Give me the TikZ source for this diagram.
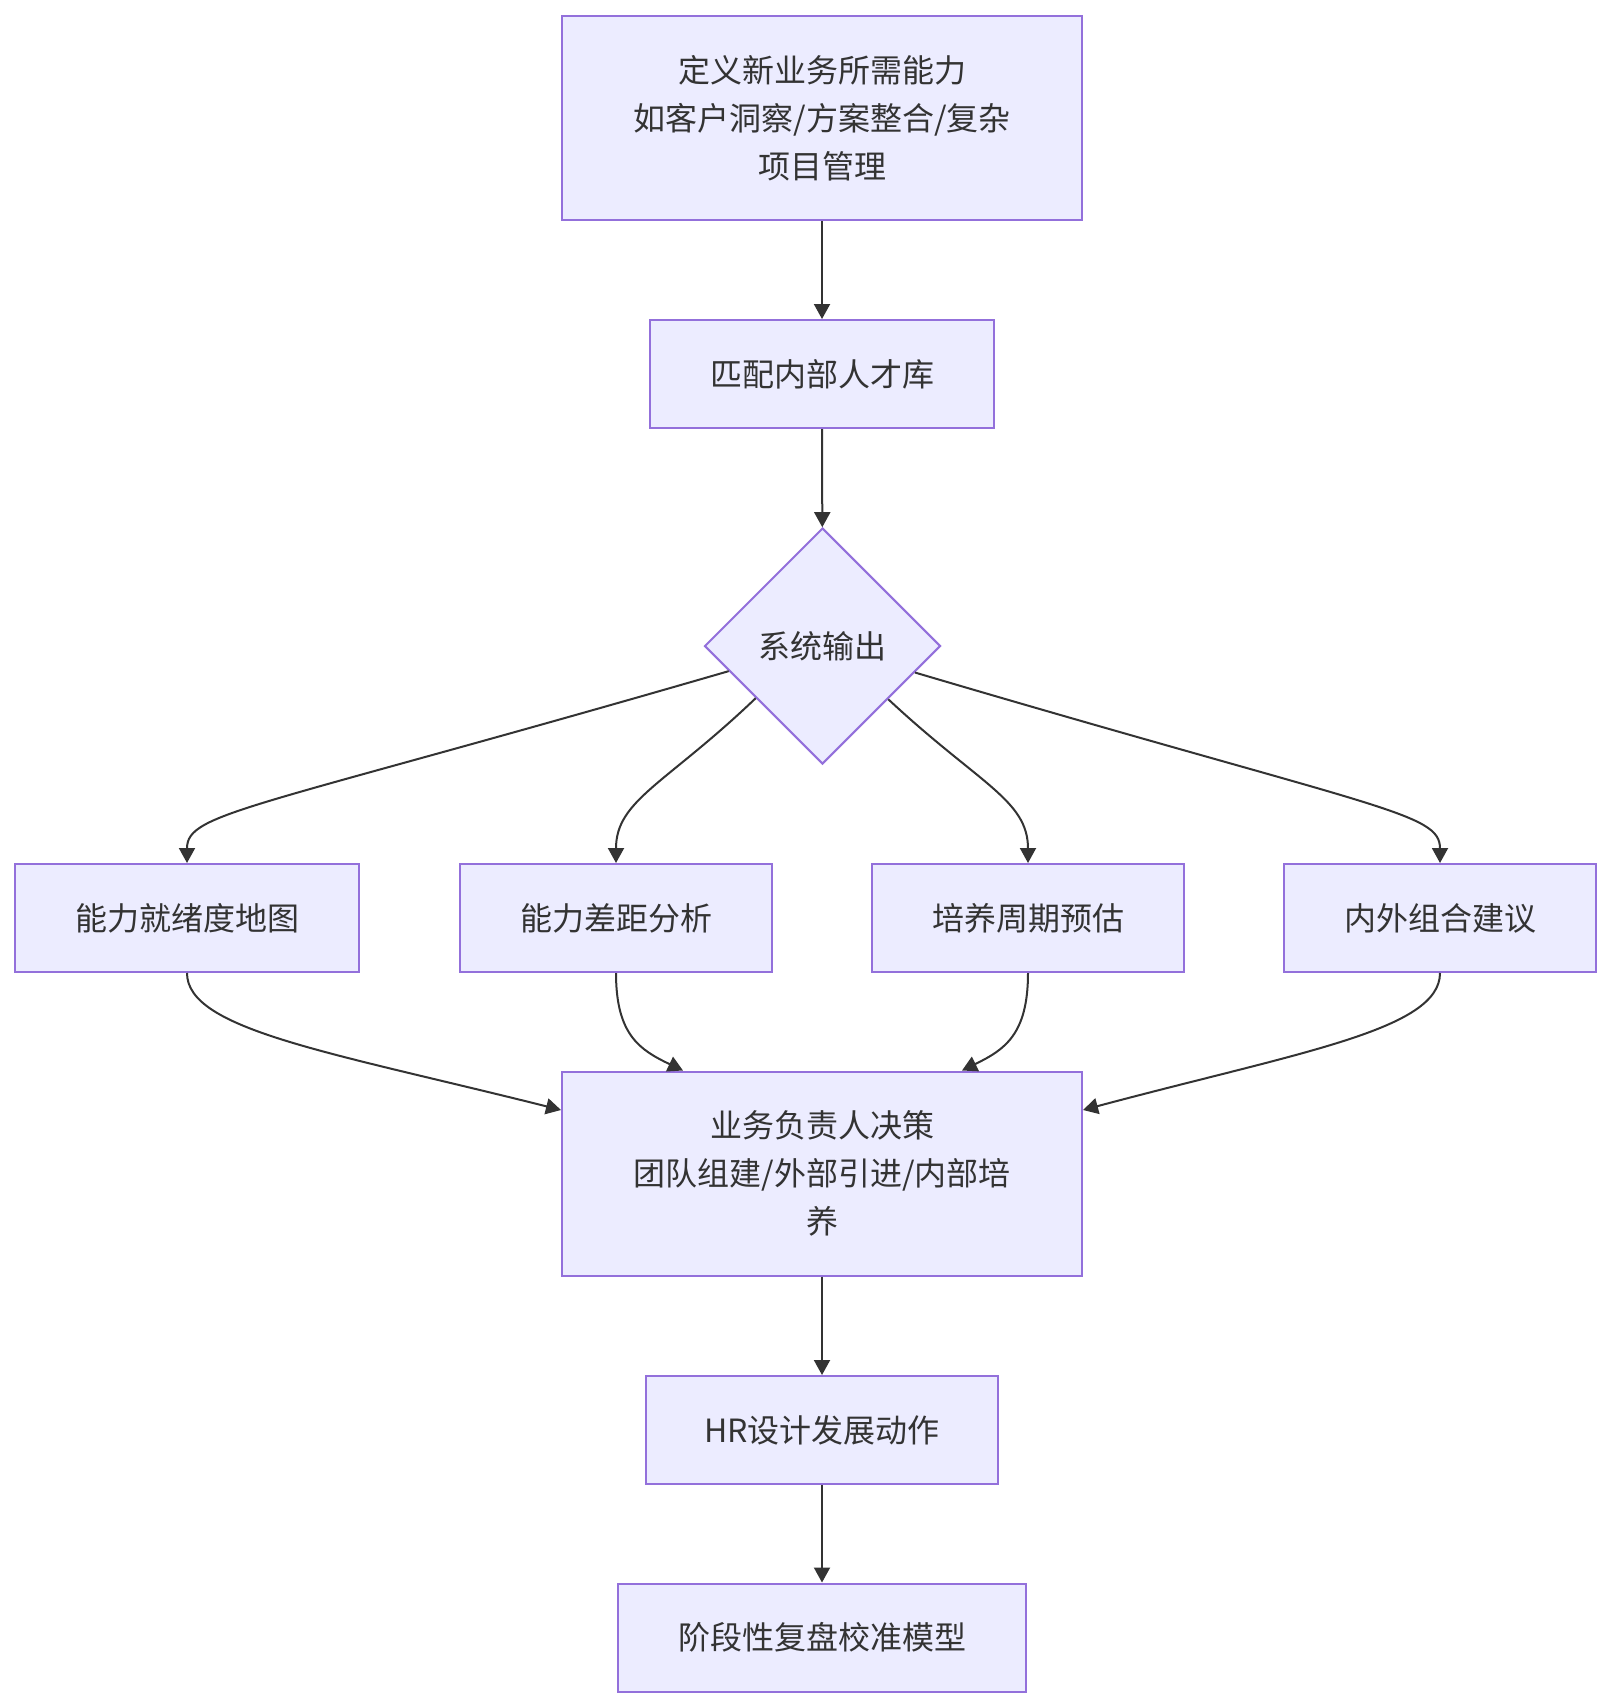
\documentclass[tikz,border=0pt]{standalone}
\usepackage{fontspec}
\setmainfont{Noto Sans CJK SC}
\usetikzlibrary{arrows.meta,shapes.geometric}
\definecolor{nodefill}{HTML}{ECECFF}
\definecolor{nodeline}{HTML}{9370DB}
\definecolor{ink}{HTML}{333333}
\tikzset{box/.style={draw=nodeline,fill=nodefill,line width=2pt,align=center,inner sep=0pt,minimum height=108pt,text=ink,font=\fontsize{32}{48}\selectfont},choice/.style={box,shape=diamond,minimum width=236pt,minimum height=236pt},arrow/.style={-{Triangle[length=15pt,width=16pt]},draw=ink,line width=2pt}}
\begin{document}
\begin{tikzpicture}[x=1pt,y=-1pt]
\useasboundingbox (0,0) rectangle (1612,1708);
\node[box,minimum width=520pt,minimum height=204pt] (need) at (822,118) {定义新业务所需能力\\如客户洞察/方案整合/复杂\\项目管理};
\node[box,minimum width=344pt] (pool) at (822,374) {匹配内部人才库};
\node[choice] (sys) at (822.5,646) {系统输出};
\node[box,minimum width=344pt] (map) at (187,918) {能力就绪度地图};
\node[box,minimum width=312pt] (gap) at (616,918) {能力差距分析};
\node[box,minimum width=312pt] (cycle) at (1028,918) {培养周期预估};
\node[box,minimum width=312pt] (mix) at (1440,918) {内外组合建议};
\node[box,minimum width=520pt,minimum height=204pt] (lead) at (822,1173.5) {业务负责人决策\\团队组建/外部引进/内部培\\养};
\node[box,minimum width=352pt] (hr) at (822,1430) {HR设计发展动作};
\node[box,minimum width=408pt] (review) at (822,1637.5) {阶段性复盘校准模型};
\draw[arrow](need)--(pool);\draw[arrow](pool)--(sys);
\draw[arrow](sys.195.5) .. controls (250,810) and (187,812) .. (map.north);
\draw[arrow](sys.218.6) .. controls (666,784) and (616,800) .. (gap.north);
\draw[arrow](sys.321.4) .. controls (979,784) and (1028,800) .. (cycle.north);
\draw[arrow](sys.344.5) .. controls (1380,810) and (1440,812) .. (mix.north);
\draw[arrow](map.south) .. controls (187,1030) and (330,1052) .. ([yshift=63.5pt]lead.west);
\draw[arrow](gap.south) .. controls (616,1035) and (640,1050) .. ([xshift=-139pt]lead.north);
\draw[arrow](cycle.south) .. controls (1028,1035) and (1004,1050) .. ([xshift=140pt]lead.north);
\draw[arrow](mix.south) .. controls (1440,1030) and (1300,1052) .. ([yshift=63.5pt]lead.east);
\draw[arrow](lead)--(hr);\draw[arrow](hr)--(review);
\end{tikzpicture}
\end{document}
